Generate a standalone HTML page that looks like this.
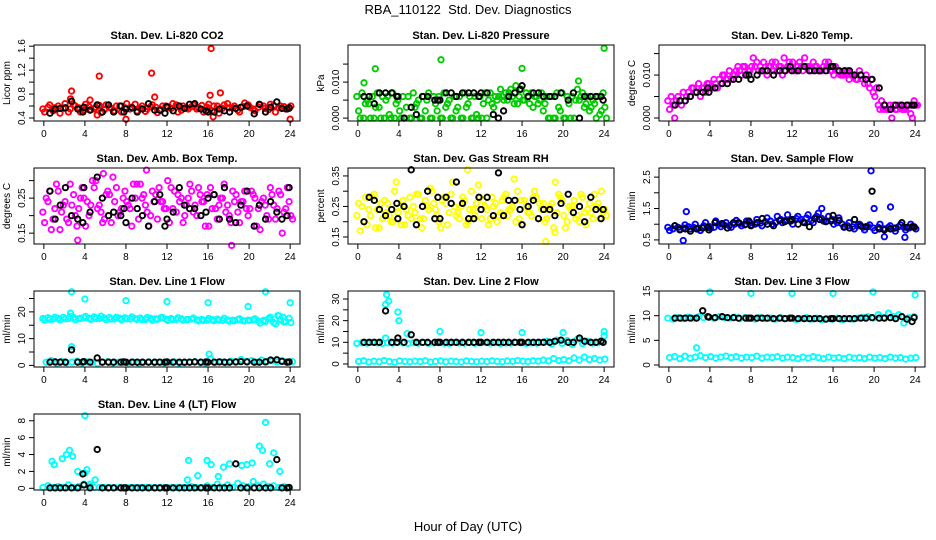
<!DOCTYPE html>
<html><head><meta charset="utf-8"><style>
body{margin:0;background:#fff}
svg{display:block;font-family:"Liberation Sans",sans-serif}
</style></head><body>
<svg id="chart" width="936" height="540" viewBox="0 0 936 540">
<text x="468" y="14" text-anchor="middle" font-size="13">RBA_110122&#160; Std. Dev. Diagnostics</text>
<text x="468" y="531" text-anchor="middle" font-size="13">Hour of Day (UTC)</text>
</svg>
<script>
const gridHours=[0,0.5,1,1.5,2,2.5,3,3.5,4,4.5,5,5.5,6,6.5,7,7.5,8,8.5,9,9.5,10,10.5,11,11.5,12,12.5,13,13.5,14,14.5,15,15.5,16,16.5,17,17.5,18,18.5,19,19.5,20,20.5,21,21.5,22,22.5,23,23.5,24];
const blackHours=[0.6,1.1,1.6,2.1,2.7,3.3,3.8,3.9,4.5,5.2,5.7,6.3,6.8,7.5,7.8,8.0,8.6,9.1,9.6,10.2,10.8,11.3,11.8,12.0,12.6,13.2,13.7,14.2,14.7,15.3,15.8,16.0,16.6,17.1,17.6,18.1,18.7,19.2,19.8,20.5,21.0,21.6,22.1,22.7,23.2,23.7,23.9];
const xTicks=[0,4,8,12,16,20,24];

const co2A=[.55,.58,.52,.6,.56,.5,.62,.57,.53,.59,.55,.61,.54,.58,.52,.6,.57,.55,.63,.56,.51,.59,.58,.54,.6,.56,.62,.53,.57,.59,.55,.61,.58,.52,.6,.56,.64,.57,.53,.59,.62,.55,.58,.6,.54,.61,.57,.59,.56];
const co2B=[.5,.62,.57,.48,.64,.55,.6,.5,.63,.54,.58,.49,.62,.56,.6,.5,.64,.58,.52,.6,.55,.62,.49,.6,.57,.64,.5,.6,.55,.62,.57,.5,.63,.6,.48,.62,.57,.6,.5,.65,.58,.52,.62,.56,.63,.5,.6,.55,.6];
const co2OutH=[2.7,2.6,5.4,10.5,10.8,16.3,16.2,17.2,8,24,16.5,4.5,5.2];
const co2OutV=[.85,.72,1.1,1.15,.75,1.56,.78,.82,.38,.38,.42,.7,.45];
const co2Black=[.48,.55,.56,.57,.68,.55,.5,.58,.53,.62,.5,.62,.5,.6,.5,.55,.57,.5,.55,.64,.53,.53,.48,.59,.52,.6,.56,.63,.64,.55,.52,.5,.5,.55,.52,.5,.56,.58,.6,.47,.63,.5,.58,.67,.56,.55,.57];

const presA=[6,7,5,6,7,6,6,7,5,6,6,7,5,6,7,6,6,7,5,6,6,7,6,6,6,7,7,6,8,7,8,9,8,7,7,6,7,6,6,7,7,6,6,8,7,6,5,6,7];
const presB=[2,0,4,0,3,0,1,0,2,0,0,3,0,2,0,4,0,3,0,2,0,3,0,1,0,0,4,5,6,5,6,4,5,6,3,4,2,0,0,3,0,4,0,5,3,2,4,1,3];
const presC=[0,4,0,3,0,5,0,4,0,3,0,4,0,5,0,2,0,4,0,3,0,4,0,0,4,5,3,6,5,7,4,6,5,4,6,5,4,0,0,2,0,0,5,6,4,3,0,2,0];
const presOutH=[0.6,1.7,8.1,16,24,21.5];
const presOutV=[9.8,13.7,16.2,13.8,19.4,10.3];
const presBlack=[6,6,4,7,7,7,6,6,0,3,1,6,6,5,5,5,7,7,6,7,7,7,6,7,7,1,0,2,6,7,8,9,6,7,7,6,6,6,7,5,7,0,6,6,6,6,5];

const tempA=[4,3,5,6,6,7,8,7,8,9,9,10,11,10,11,12,11,12,12,11,12,13,12,11,12,11,12,12,11,12,11,12,11,11,10,11,10,9,9,8,6,3,2,2,3,3,2,3,4];
const tempB=[2,0,4,4,5,6,5,6,7,8,8,9,9,11,10,10,12,13,11,10,13,11,10,12,13,12,11,12,13,11,12,13,10,11,10,9,10,11,8,7,5,2,3,3,2,3,2,1,3];
const tempC=[5,4,3,5,7,6,7,8,7,7,10,9,10,12,12,11,14,11,13,12,11,12,14,13,11,13,14,11,12,11,13,11,12,10,11,10,9,10,10,9,7,4,2,0,2,2,3,0,3];
const tempBlack=[3,4,4,5,6,6,7,6,7,8,8,9,9,10,10,9,10,11,11,10,11,11,12,11,11,12,11,11,11,11,12,12,11,11,11,10,10,9,9,7,3,2,3,3,3,3,3];

const ambA=[21,24,19,27,23,18,26,22,25,20,28,23,19,26,24,21,27,22,25,29,23,20,26,24,22,28,21,25,23,27,20,24,26,22,19,25,23,27,21,24,20,26,22,25,19,23,27,21,24];
const ambB=[18,27,22,16,24,29,20,25,17,23,30,21,26,18,28,22,24,17,29,25,21,27,19,24,30,22,26,18,25,21,28,24,17,26,23,29,20,24,18,27,22,25,16,23,28,19,26,22,20];
const ambC=[25,16,29,21,19,23,17,28,24,30,22,18,27,31,20,25,23,29,19,26,17,24,28,22,18,27,24,20,29,23,26,17,28,22,25,21,18,26,24,22,27,17,24,20,26,22,15,28,19];
const ambOutH=[3.3,18.3,10,5.8];
const ambOutV=[13,11.5,33,32];
const ambBlack=[27,19,23,28,20,19,18,28,21,31,25,20,21,20,22,18,25,22,20,17,24,26,17,19,21,28,23,22,22,20,21,25,26,19,28,19,18,23,27,17,23,19,24,21,19,20,28];

const rhA=[22,25,19,28,24,21,26,20,23,27,22,25,29,21,24,26,20,28,23,25,21,27,24,22,28,25,21,26,23,29,24,20,27,25,22,28,24,21,26,23,27,20,25,22,28,24,21,26,23];
const rhB=[26,20,24,29,18,27,22,30,25,19,28,23,21,27,31,24,18,26,29,22,25,19,30,26,21,24,28,20,27,22,25,30,19,23,28,21,26,24,18,29,22,25,27,20,23,26,29,21,24];
const rhC=[17,28,22,18,26,23,20,33,19,24,21,29,18,25,30,22,27,19,33,23,28,20,24,32,27,19,25,22,28,24,34,21,27,23,30,26,20,25,33,28,18,24,21,29,19,23,25,30,22];
const rhOutH=[18.3,10.7,19.2];
const rhOutV=[13.5,37,16.5];
const rhBlack=[20,28,27,24,22,24,26,21,25,37,19,25,30,21,28,21,28,26,33,26,21,21,28,24,28,22,36,22,27,27,24,19,25,27,21,24,24,22,26,29,23,25,20,28,24,21,24];

const sfA=[.9,.85,.9,.88,.92,.9,.87,.95,.93,.9,1.0,.97,.95,1.0,1.02,.98,1.05,1.0,1.03,1.08,1.1,1.05,1.15,1.12,1.1,1.18,1.15,1.2,1.12,1.25,1.18,1.1,1.15,1.05,1.0,.95,.92,.95,.9,.92,.88,.9,.85,.9,.87,.92,.9,.88,.92];
const sfB=[.8,.95,.82,.98,.85,1.0,.8,1.05,.88,1.1,.92,1.05,.9,1.12,.95,1.1,.98,1.15,.95,1.2,1.0,1.25,1.05,1.3,1.0,1.25,1.08,1.3,1.05,1.35,1.1,1.25,1.0,1.2,.9,1.05,.85,1.0,.82,.98,.8,1.0,.85,.95,.78,.98,.82,1.0,.85];
const sfOutH=[1.4,1.7,19.7,20,21.6,23,21,14.9];
const sfOutV=[.48,1.4,2.7,1.5,1.55,.58,.6,1.5];
const sfBlack=[.95,.83,.85,.78,.85,.88,.9,.82,1.05,1.02,.88,1.05,1.05,1.0,1.1,.95,1.05,1.18,1.0,.95,1.12,1.08,1.1,1.15,1.0,1.05,.92,1.18,1.15,1.08,1.1,1.28,1.12,.92,.88,1.15,.95,.92,2.05,.85,.82,.85,.88,1.05,.9,.92,.9];

const l1A=[17.5,17.8,17.3,17.6,18,17.5,17.9,17.4,17.8,17.6,18.1,17.5,17.7,17.9,17.4,17.6,17.8,17.3,17.5,17.7,17.2,17.6,17.4,17.8,17.3,17.5,17.2,17.4,17.1,17.3,17,17.2,16.9,17.1,17.3,16.8,17,16.9,17.1,16.7,16.9,17,16.6,16.8,17.5,16,18.5,16.2,17.6];
const l1B=[16.9,17.2,18,17,17.4,18.2,17.1,17.6,18.3,17.2,17.5,18.4,17.1,17.3,18,17,17.4,18.1,17.2,17.1,17.9,16.9,17.2,17.9,16.8,17.1,17.8,16.9,17.2,17.7,16.6,16.8,17.5,16.7,16.9,17.6,16.5,16.7,17.4,16.6,16.8,17.4,15.8,16.4,18,15.5,17.2,16.4,16];
const l1C=[1.2,1.8,0.8,1.5,1,1.2,1.6,0.9,1.3,1.1,0.7,1.2,1.4,0.9,1.1,1.3,1,1.2,0.8,1.1,1.3,1,1.2,0.9,1.1,1.3,0.8,1,1.2,1.4,1,0.9,2.5,1.1,1.3,1,1.6,1.2,2.2,1.5,1.8,1.2,2,1.5,1.7,1.3,1.8,1.2,1.4];
const l1OutH=[2.7,4,8,12,16,19.9,21.6,24,2.6,2.7,16.1,22.8,23.3];
const l1OutV=[27.5,24.8,24.2,23.8,23.4,22,27.5,23.4,19.5,7,4.2,18.6,18];
const l1Black=[1.2,1.3,1.2,1.2,5.8,1.2,1.3,1.4,1.2,2.8,1.2,1.2,1.2,1.2,1.3,1.2,1.2,1.2,1.2,1.2,1.2,1.2,1.2,1.3,1.2,1.2,1.2,1.2,1.3,1.2,1.3,1.2,1.2,1.3,1.2,1.2,1.3,1.4,1.3,1.2,1.2,1.3,2,2.1,1.5,1.2,1.3];

const l2A=[9.5,9.8,9.6,9.9,9.7,9.5,9.8,9.6,9.9,9.7,9.5,9.8,9.6,9.9,9.5,9.7,9.8,9.6,9.5,9.9,9.7,9.6,9.8,9.5,9.7,9.9,9.6,9.8,9.5,9.7,9.6,9.9,9.8,9.5,9.7,9.6,9.9,10.5,9.2,11,9.5,10.8,9,11.5,9.4,10.5,9.6,9.8,10];
const l2B=[1.2,1.5,0.9,1.3,1,1.6,1.1,0.8,1.4,1.2,1,1.3,1.1,1.5,0.9,1.2,1.4,1,1.3,1.1,0.9,1.4,1.2,1,1.3,1.1,1.5,1.2,1,1.4,1.2,1.6,1.3,1.1,1.5,1.3,1.8,1.4,2.5,1.6,2,1.5,2.8,1.8,3.2,2,2.5,1.8,2.2];
const l2OutH=[2.8,3,3.9,4,4.8,8,12,16,20,24,2.7,24,2.7];
const l2OutV=[32,29,24,20,14,15,14.5,14.5,14.5,15,12,13,27.5];
const l2Black=[10,10,10,10,24.5,10,10,12,10,13.5,10,10,10,10,10,10,10,10,10,10,10,10,10,10,10,10,10,10,10,10,10,10,10,10,10,10,10,10.5,11,10,10,12,10.5,10,10,10.5,10];

const l3A=[9.5,9.3,9.6,9.4,9.7,9.5,9.8,9.6,9.7,9.5,9.8,9.6,9.5,9.7,9.4,9.6,9.5,9.3,9.6,9.4,9.5,9.3,9.6,9.4,9.5,9.2,9.4,9.6,9.3,9.5,9.2,9.4,9.3,9.5,9.2,9.4,9.3,9.5,9.6,9.8,9.5,10.2,9.6,10.5,9.8,10.2,8.5,9.6,9.8];
const l3B=[1.5,1.7,1.3,1.8,1.4,1.6,1.9,1.5,1.7,1.4,1.6,1.8,1.5,1.7,1.4,1.6,1.5,1.8,1.4,1.6,1.5,1.7,1.4,1.6,1.5,1.3,1.6,1.4,1.7,1.5,1.3,1.6,1.4,1.5,1.3,1.6,1.4,1.5,1.3,1.6,1.4,1.5,1.3,1.6,1.4,1.5,1.2,1.4,1.5];
const l3OutH=[4,8,12,16,19.9,24,2.7];
const l3OutV=[14.8,14.5,14.5,14.5,14.8,14.2,3.5];
const l3Black=[9.5,9.5,9.5,9.5,9.5,11,9.8,9.7,9.6,9.8,9.6,9.6,9.5,9.5,9.5,9.5,9.5,9.5,9.5,9.4,9.5,9.4,9.5,9.5,9.4,9.4,9.4,9.4,9.4,9.3,9.4,9.4,9.4,9.4,9.4,9.4,9.5,9.5,9.6,9.5,9.5,9.6,9.4,9.8,9.3,8.8,9.6];

const l4A=[0.1,0.3,0.1,0.2,0.1,0.4,0.1,0.2,0.5,0.3,0.1,0.1,0.1,0.1,0.1,0.1,0.1,0.1,0.1,0.1,0.1,0.1,0.1,0.1,0.1,0.1,0.1,0.1,0.1,0.2,0.1,0.1,0.3,0.1,0.5,0.1,0.4,0.1,0.6,0.3,0.2,0.8,0.3,0.5,0.2,0.3,0.1,0.2,0.1];
const l4OutH=[0.8,1,1.8,2.2,2.5,2.8,3.3,4,4,4.2,5,4.5,14.1,15,15.9,16.3,17.5,18.1,19.3,19.8,20.3,21,21.3,21.6,22,22.4,23,14,17];
const l4OutV=[3.2,2.8,3.5,4,4.5,3.8,2,8.6,1.8,2.2,1,0.5,3.3,1.5,3.3,2.8,2.5,2.9,2.7,2.8,3,5,4.5,7.8,2.9,4.2,2,1,1.4];
const l4Black=[0.05,0.05,0.05,0.05,0.05,0.05,1.7,0.4,0.05,4.6,0.05,0.05,0.05,0.05,0.05,0.05,0.05,0.05,0.05,0.05,0.05,0.05,0.05,0.05,0.05,0.05,0.05,0.05,0.05,0.05,0.05,0.05,0.05,0.05,0.05,0.05,2.9,0.05,0.05,0.05,0.05,0.05,0.05,3.4,0.05,0.05,0.1];

const svg=document.getElementById('chart');
const NS='http://www.w3.org/2000/svg';
function mk(tag,attrs,parent){const e=document.createElementNS(NS,tag);for(const k in attrs)e.setAttribute(k,attrs[k]);(parent||svg).appendChild(e);return e;}
const colX=[34,348,659], rowY=[45,168,291,414], W=266, H=76;

const panels=[
 {name:'co2',title:'Stan. Dev. Li-820 CO2',ylab:'Licor ppm',col:0,row:0,color:'#ff0000',scale:1,ylim:[0.35,1.62],ticks:[0.4,0.6,0.8,1.0,1.2,1.4,1.6],labels:[0.4,0.8,1.2,1.6],fmt:v=>v.toFixed(1),clouds:[co2A,co2B],outH:co2OutH,outV:co2OutV,black:co2Black},
 {name:'pressure',title:'Stan. Dev. Li-820 Pressure',ylab:'kPa',col:1,row:0,color:'#00cc00',scale:0.001,ylim:[-0.0008,0.0203],ticks:[0,0.005,0.01,0.015],labels:[0,0.01],fmt:v=>v.toFixed(3),clouds:[presA,presB,presC],outH:presOutH,outV:presOutV,black:presBlack},
 {name:'temp',title:'Stan. Dev. Li-820 Temp.',ylab:'degrees C',col:2,row:0,color:'#ff00ff',scale:0.001,ylim:[-0.0007,0.0170],ticks:[0,0.005,0.01,0.015],labels:[0,0.01],fmt:v=>v.toFixed(3),clouds:[tempA,tempB,tempC],outH:[],outV:[],black:tempBlack},
 {name:'amb-box',title:'Stan. Dev. Amb. Box Temp.',ylab:'degrees C',col:0,row:1,color:'#ff00ff',scale:0.01,ylim:[0.119,0.336],ticks:[0.15,0.2,0.25,0.3],labels:[0.15,0.25],fmt:v=>v.toFixed(2),clouds:[ambA,ambB,ambC],outH:ambOutH,outV:ambOutV,black:ambBlack},
 {name:'gas-rh',title:'Stan. Dev. Gas Stream RH',ylab:'percent',col:1,row:1,color:'#ffff00',scale:0.01,ylim:[0.127,0.376],ticks:[0.15,0.2,0.25,0.3,0.35],labels:[0.15,0.25,0.35],fmt:v=>v.toFixed(2),clouds:[rhA,rhB,rhC],outH:rhOutH,outV:rhOutV,black:rhBlack},
 {name:'sample-flow',title:'Stan. Dev. Sample Flow',ylab:'ml/min',col:2,row:1,color:'#0000ff',scale:1,ylim:[0.37,2.79],ticks:[0.5,1,1.5,2,2.5],labels:[0.5,1.5,2.5],fmt:v=>v.toFixed(1),clouds:[sfA,sfB],outH:sfOutH,outV:sfOutV,black:sfBlack},
 {name:'line1',title:'Stan. Dev. Line 1 Flow',ylab:'ml/min',col:0,row:2,color:'#00ffff',scale:1,ylim:[-0.6,27.8],ticks:[0,5,10,15,20,25],labels:[0,10,20],fmt:v=>String(v),clouds:[l1A,l1B,l1C],outH:l1OutH,outV:l1OutV,black:l1Black},
 {name:'line2',title:'Stan. Dev. Line 2 Flow',ylab:'ml/min',col:1,row:2,color:'#00ffff',scale:1,ylim:[-1.4,33.7],ticks:[0,5,10,15,20,25,30],labels:[0,10,20,30],fmt:v=>String(v),clouds:[l2A,l2B],outH:l2OutH,outV:l2OutV,black:l2Black},
 {name:'line3',title:'Stan. Dev. Line 3 Flow',ylab:'ml/min',col:2,row:2,color:'#00ffff',scale:1,ylim:[-0.4,15.0],ticks:[0,5,10,15],labels:[0,5,10,15],fmt:v=>String(v),clouds:[l3A,l3B],outH:l3OutH,outV:l3OutV,black:l3Black},
 {name:'line4',title:'Stan. Dev. Line 4 (LT) Flow',ylab:'ml/min',col:0,row:3,color:'#00ffff',scale:1,ylim:[-0.2,8.8],ticks:[0,2,4,6,8],labels:[0,2,4,6,8],fmt:v=>String(v),clouds:[l4A],outH:l4OutH,outV:l4OutV,black:l4Black}
];
const offsets=[0,0.17,0.33];

panels.forEach(p=>{
  const x0=colX[p.col], y0=rowY[p.row];
  const g=mk('g',{});
  
  
  const xs=h=>x0+(h+0.96)/25.92*W;
  const ys=v=>y0+H-(v-p.ylim[0])/(p.ylim[1]-p.ylim[0])*H;
  const t=mk('text',{x:x0+W/2,y:y0-6,'text-anchor':'middle','font-size':11,'font-weight':'bold'},g);
  t.textContent=p.title;
  
  
  const yl=mk('text',{x:0,y:0,'text-anchor':'middle','font-size':10,transform:`translate(${x0-24},${y0+H/2}) rotate(-90)`},g);
  yl.textContent=p.ylab;
  
  
  const pts=mk('g',{fill:'none','stroke-width':1.9},g);
  
  
  p.clouds.forEach((arr,k)=>{
    arr.forEach((v,i)=>{
      const c=mk('circle',{cx:xs(gridHours[i]+offsets[k]-0.1),cy:ys(v*p.scale),r:2.7,stroke:p.color},pts);
      
      
    });
  });
  p.outH.forEach((h,i)=>{
    const c=mk('circle',{cx:xs(h),cy:ys(p.outV[i]*p.scale),r:2.7,stroke:p.color},pts);
    
    
  });
  p.black.forEach((v,i)=>{
    const c=mk('circle',{cx:xs(blackHours[i]),cy:ys(v*p.scale),r:2.7,stroke:'#000'},pts);
    
    
  });
  const box=mk('rect',{x:x0,y:y0,width:W,height:H,fill:'none',stroke:'#000','stroke-width':1},g);
  
  
  xTicks.forEach(h=>{
    mk('line',{x1:xs(h),x2:xs(h),y1:y0+H,y2:y0+H+5,stroke:'#000'},g);
    const tl=mk('text',{x:xs(h),y:y0+H+16,'text-anchor':'middle','font-size':10},g);
    tl.textContent=h;
    
    
  });
  p.ticks.forEach(v=>{mk('line',{x1:x0-5,x2:x0,y1:ys(v),y2:ys(v),stroke:'#000'},g);});
  p.labels.forEach(v=>{
    const tl=mk('text',{x:0,y:0,'text-anchor':'middle','font-size':10,transform:`translate(${x0-9},${ys(v)}) rotate(-90)`},g);
    tl.textContent=p.fmt(v);
    
    
  });
});
</script>
</body></html>
